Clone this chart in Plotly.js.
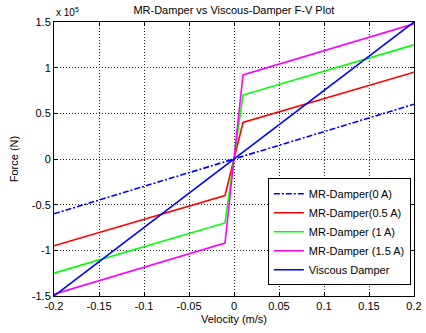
<!DOCTYPE html>
<html>
<head>
<meta charset="utf-8">
<script src="https://cdn.plot.ly/plotly-3.0.1.min.js"></script>
<style>html,body{margin:0;padding:0;background:#fff}#plot{width:426px;height:333px}</style>
</head>
<body>
<div id="plot"></div>
<script>
// Velocity (m/s)
const velocity = [-0.2, -0.01, 0, 0.01, 0.2];
const velocityLine = [-0.2, 0.2];
// Force (N)
const mr0A = [-60000, 60000];
const mr05A = [-95000, -40000, 0, 40000, 95000];
const mr1A = [-125000, -70000, 0, 70000, 125000];
const mr15A = [-148000, -92000, 0, 92000, 148000];
const viscous = [-150000, 150000];
const seriesNames = ['MR-Damper(0 A)', 'MR-Damper(0.5 A)', 'MR-Damper (1 A)', 'MR-Damper (1.5 A)', 'Viscous Damper'];
const yTickVals = [-150000, -100000, -50000, 0, 50000, 100000, 150000];
const yTickText = ['-1.5', '-1', '-0.5', '0', '0.5', '1', '1.5'];
const xTickVals = [-0.2, -0.15, -0.1, -0.05, 0, 0.05, 0.1, 0.15, 0.2];
const xTickText = ['-0.2', '-0.15', '-0.1', '-0.05', '0', '0.05', '0.1', '0.15', '0.2'];

const traces = [
  {x: velocityLine, y: mr0A, name: seriesNames[0], mode: 'lines', line: {color: '#0000ff', width: 1.6, dash: '6px,2px,2px,2px'}},
  {x: velocity, y: mr05A, name: seriesNames[1], mode: 'lines', line: {color: '#ff0000', width: 1.6}},
  {x: velocity, y: mr1A, name: seriesNames[2], mode: 'lines', line: {color: '#00ff00', width: 1.6}},
  {x: velocity, y: mr15A, name: seriesNames[3], mode: 'lines', line: {color: '#ff00ff', width: 1.6}},
  {x: velocityLine, y: viscous, name: seriesNames[4], mode: 'lines', line: {color: '#0000ff', width: 1.6}}
];

const axisCommon = {
  showline: true, mirror: 'ticks', linecolor: '#000', linewidth: 1,
  ticks: 'inside', ticklen: 4, tickcolor: '#000',
  showgrid: true, gridcolor: '#222', griddash: '1px,2px', gridwidth: 1,
  zeroline: false,
  tickfont: {family: 'Liberation Sans, Arial, sans-serif', size: 11, color: '#000'}
};

const layout = {
  width: 426, height: 333,
  margin: {l: 54, r: 12, t: 22, b: 37},
  paper_bgcolor: '#fff', plot_bgcolor: '#fff',
  font: {family: 'Liberation Sans, Arial, sans-serif', size: 11, color: '#000'},
  title: {text: 'MR-Damper vs Viscous-Damper F-V Plot', x: 0.549, xanchor: 'center', y: 0.97, yanchor: 'middle', font: {size: 11, color: '#000'}},
  xaxis: Object.assign({}, axisCommon, {range: [-0.2, 0.2], tickvals: xTickVals, ticktext: xTickText,
    title: {text: 'Velocity (m/s)', standoff: 4, font: {size: 11}}}),
  yaxis: Object.assign({}, axisCommon, {range: [-150000, 150000], tickvals: yTickVals, ticktext: yTickText,
    title: {text: 'Force (N)', standoff: 10, font: {size: 11}}}),
  legend: {x: 0.594, y: 0.43, xanchor: 'left', yanchor: 'top', bgcolor: '#fff', bordercolor: '#000', borderwidth: 1,
    font: {size: 11}, tracegroupgap: 0, itemwidth: 30},
  showlegend: true,
  annotations: [{xref: 'paper', yref: 'paper', x: 0, y: 1, xanchor: 'left', yanchor: 'bottom', yshift: 2,
    text: 'x 10<sup>5</sup>', showarrow: false, font: {size: 10}}]
};

Plotly.newPlot('plot', traces, layout, {displayModeBar: false, staticPlot: true});
</script>
</body>
</html>
